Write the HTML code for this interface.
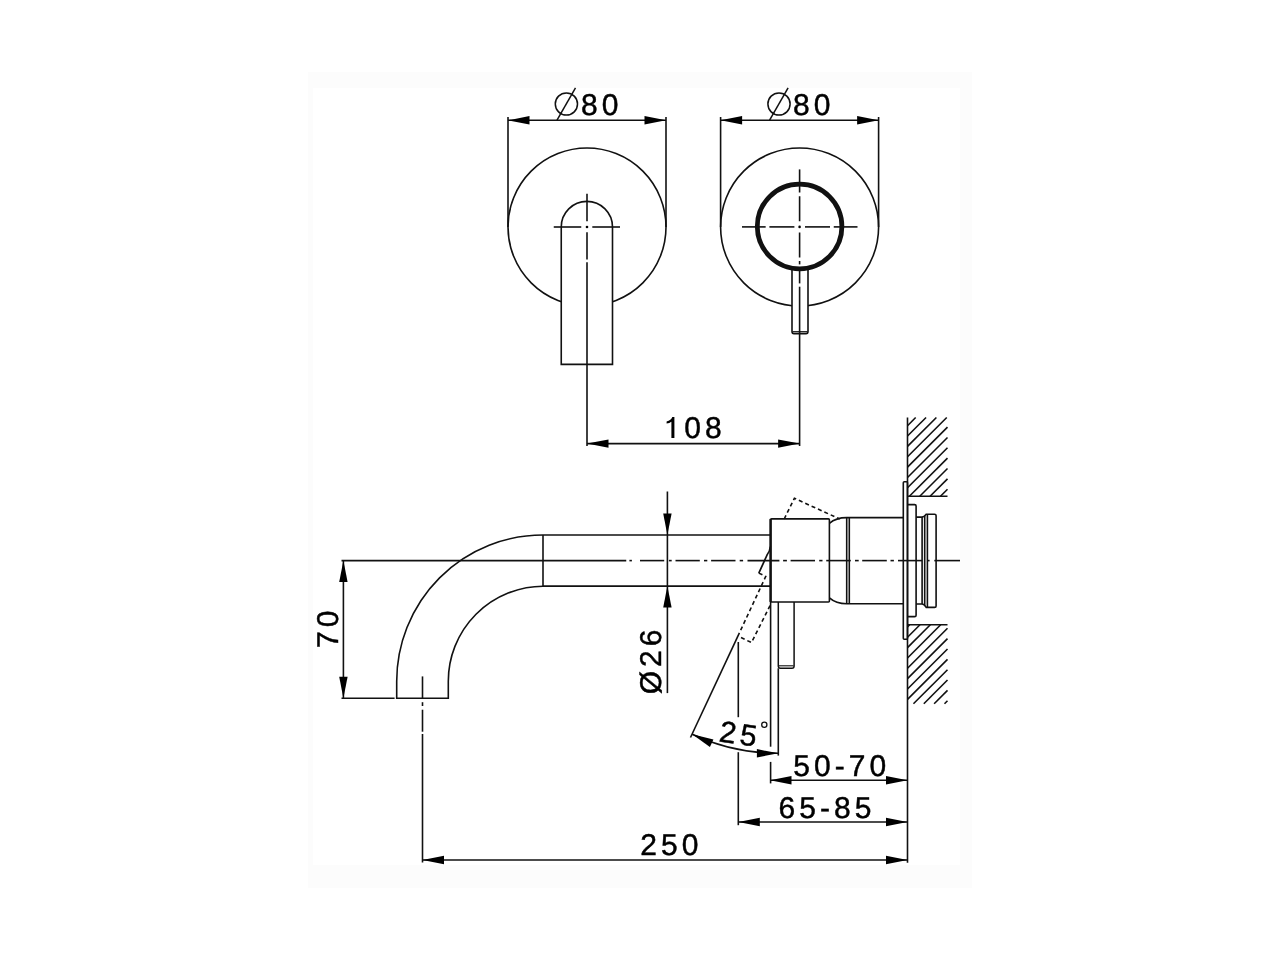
<!DOCTYPE html>
<html><head><meta charset="utf-8"><style>
html,body{margin:0;padding:0;background:#fff;width:1280px;height:960px;overflow:hidden}
svg{position:absolute;left:0;top:0;will-change:transform}
text{font-family:"Liberation Sans",sans-serif;fill:#000;text-rendering:geometricPrecision;stroke:#000;stroke-width:0.45px}
</style></head><body>
<svg width="1280" height="960" viewBox="0 0 1280 960">
<rect x="308" y="72" width="664" height="816" fill="#fcfcfc"/>
<rect x="313" y="88" width="647" height="777" fill="#fff"/>
<g stroke="#111" fill="none" stroke-linecap="butt">
<circle cx="587" cy="227" r="79" stroke-width="1.6" fill="none"/>
<path d="M561.25,364.4 V227 A25.625,25.625 0 0 1 612.5,227 V364.4 Z" stroke-width="1.6" fill="#fff"/>
<line x1="553.75" y1="227" x2="581.25" y2="227" stroke-width="1.6"/>
<line x1="592.3" y1="227" x2="620" y2="227" stroke-width="1.6"/>
<circle cx="587" cy="227" r="1.3" fill="#000" stroke="none"/>
<line x1="587" y1="193.75" x2="587" y2="221.25" stroke-width="1.6"/>
<line x1="587" y1="232.3" x2="587" y2="259.6" stroke-width="1.6"/>
<line x1="587" y1="262.2" x2="587" y2="446" stroke-width="1.6"/>
<line x1="508" y1="117" x2="508" y2="227" stroke-width="1.6"/>
<line x1="666" y1="117" x2="666" y2="227" stroke-width="1.6"/>
<line x1="508" y1="120.3" x2="666" y2="120.3" stroke-width="1.6"/>
<polygon points="508,120.3 529.5,116.1 529.5,124.5" fill="#000" stroke="none"/>
<polygon points="666,120.3 644.5,124.5 644.5,116.1" fill="#000" stroke="none"/>
<circle cx="566.4" cy="104" r="11.1" stroke-width="1.5" fill="none"/>
<line x1="557" y1="120.1" x2="575.5" y2="87.9" stroke-width="1.5"/>
<circle cx="799.6" cy="227" r="79" stroke-width="1.6" fill="none"/>
<path d="M792,268 V331.5 Q792,333.6 794,333.6 H806 Q808,333.6 808,331.5 V268 Z" stroke-width="1.6" fill="#fff"/>
<line x1="792.5" y1="331.7" x2="807.5" y2="331.7" stroke-width="1.2"/>
<circle cx="799.6" cy="226.5" r="42.3" stroke-width="4.8" fill="none"/>
<line x1="742" y1="226.9" x2="765.6" y2="226.9" stroke-width="1.6"/>
<line x1="769.4" y1="226.9" x2="794.4" y2="226.9" stroke-width="1.6"/>
<line x1="805" y1="226.9" x2="830" y2="226.9" stroke-width="1.6"/>
<line x1="833.75" y1="226.9" x2="857.5" y2="226.9" stroke-width="1.6"/>
<circle cx="799.6" cy="226.9" r="1.3" fill="#000" stroke="none"/>
<line x1="799.6" y1="169.4" x2="799.6" y2="192.5" stroke-width="1.6"/>
<line x1="799.6" y1="196.25" x2="799.6" y2="221.25" stroke-width="1.6"/>
<line x1="799.6" y1="232.5" x2="799.6" y2="257.5" stroke-width="1.6"/>
<line x1="799.6" y1="261" x2="799.6" y2="264.4" stroke-width="1.6"/>
<line x1="799.6" y1="268.4" x2="799.6" y2="283.4" stroke-width="1.6"/>
<line x1="799.6" y1="286.7" x2="799.6" y2="446" stroke-width="1.6"/>
<line x1="720.6" y1="117" x2="720.6" y2="227" stroke-width="1.6"/>
<line x1="878.6" y1="117" x2="878.6" y2="227" stroke-width="1.6"/>
<line x1="720.6" y1="120.3" x2="878.6" y2="120.3" stroke-width="1.6"/>
<polygon points="720.6,120.3 742.1,116.1 742.1,124.5" fill="#000" stroke="none"/>
<polygon points="878.6,120.3 857.1,124.5 857.1,116.1" fill="#000" stroke="none"/>
<circle cx="779" cy="104" r="11.1" stroke-width="1.5" fill="none"/>
<line x1="769.6" y1="120.1" x2="788.1" y2="87.9" stroke-width="1.5"/>
<line x1="587" y1="443.6" x2="799.6" y2="443.6" stroke-width="1.6"/>
<polygon points="587,443.6 608.5,439.4 608.5,447.8" fill="#000" stroke="none"/>
<polygon points="799.6,443.6 778.1,447.8 778.1,439.4" fill="#000" stroke="none"/>
<line x1="341.5" y1="560.6" x2="626.25" y2="560.6" stroke-width="1.6"/>
<line x1="629.4" y1="560.6" x2="631.9" y2="560.6" stroke-width="1.6"/>
<line x1="640" y1="560.6" x2="664.2" y2="560.6" stroke-width="1.6"/>
<line x1="668.9" y1="560.6" x2="671.7" y2="560.6" stroke-width="1.6"/>
<line x1="675.5" y1="560.6" x2="699.8" y2="560.6" stroke-width="1.6"/>
<line x1="704" y1="560.6" x2="707.3" y2="560.6" stroke-width="1.6"/>
<line x1="711.1" y1="560.6" x2="735.5" y2="560.6" stroke-width="1.6"/>
<line x1="739.7" y1="560.6" x2="743.1" y2="560.6" stroke-width="1.6"/>
<line x1="747.5" y1="560.6" x2="779.4" y2="560.6" stroke-width="1.6"/>
<line x1="783.1" y1="560.6" x2="786.9" y2="560.6" stroke-width="1.6"/>
<line x1="790.6" y1="560.6" x2="815" y2="560.6" stroke-width="1.6"/>
<line x1="819.2" y1="560.6" x2="822.5" y2="560.6" stroke-width="1.6"/>
<line x1="826.25" y1="560.6" x2="850.8" y2="560.6" stroke-width="1.6"/>
<line x1="855" y1="560.6" x2="858.7" y2="560.6" stroke-width="1.6"/>
<line x1="862.2" y1="560.6" x2="886.8" y2="560.6" stroke-width="1.6"/>
<line x1="890.5" y1="560.6" x2="893.9" y2="560.6" stroke-width="1.6"/>
<line x1="898" y1="560.6" x2="922" y2="560.6" stroke-width="1.6"/>
<line x1="927.2" y1="560.6" x2="929.6" y2="560.6" stroke-width="1.6"/>
<line x1="934.3" y1="560.6" x2="960" y2="560.6" stroke-width="1.6"/>
<path d="M543,535 A146.3,146.3 0 0 0 396.7,681.3 V698.25 H448.3 V681.3 A95,95 0 0 1 543,586.25" stroke-width="1.6" fill="none"/>
<line x1="543" y1="535" x2="543" y2="586.25" stroke-width="1.6"/>
<line x1="543" y1="535" x2="770.6" y2="535" stroke-width="1.6"/>
<line x1="543" y1="586.1" x2="770.6" y2="586.1" stroke-width="1.6"/>
<line x1="422.5" y1="676.4" x2="422.5" y2="698.25" stroke-width="1.6"/>
<line x1="422.5" y1="702.2" x2="422.5" y2="706" stroke-width="1.6"/>
<line x1="422.5" y1="709.7" x2="422.5" y2="731.7" stroke-width="1.6"/>
<line x1="422.5" y1="734" x2="422.5" y2="862.5" stroke-width="1.6"/>
<line x1="343.4" y1="560.6" x2="343.4" y2="698.25" stroke-width="1.6"/>
<polygon points="343.4,560.6 347.6,582.1 339.2,582.1" fill="#000" stroke="none"/>
<polygon points="343.4,698.25 339.2,676.75 347.6,676.75" fill="#000" stroke="none"/>
<line x1="341.5" y1="698.25" x2="394.6" y2="698.25" stroke-width="1.6"/>
<line x1="667.4" y1="491.5" x2="667.4" y2="693.1" stroke-width="1.6"/>
<polygon points="667.4,535 663.2,513.5 671.6,513.5" fill="#000" stroke="none"/>
<polygon points="667.4,586.1 671.6,607.6 663.2,607.6" fill="#000" stroke="none"/>
<path d="M784.2,519 L794.4,498.3 L839.7,519" stroke-width="1.6" fill="none" stroke-dasharray="4 3"/>
<path d="M770.4,546.5 Q769.8,551.5 767.3,554.5 L758.8,573.1" stroke-width="1.7" fill="none"/>
<path d="M758.8,573.1 L765.75,576.45 L737.9,636.1 L751.5,642.6 L770.6,604.5" stroke-width="1.6" fill="none" stroke-dasharray="4 3"/>
<rect x="770.6" y="518.9" width="58.8" height="83.1" rx="1" stroke-width="1.6" fill="none"/>
<line x1="770.6" y1="518.9" x2="770.6" y2="602" stroke-width="2.4"/>
<path d="M778.3,602 V666 Q778.3,668.3 780.5,668.3 H792 Q794.1,668.3 794.1,666 V602" stroke-width="1.5" fill="none"/>
<line x1="778.8" y1="665.8" x2="793.6" y2="665.8" stroke-width="1.1"/>
<line x1="770.6" y1="602" x2="770.6" y2="746.7" stroke-width="1.6"/>
<line x1="770.6" y1="761.9" x2="770.6" y2="783.4" stroke-width="1.6"/>
<line x1="778.3" y1="668.3" x2="778.3" y2="755.6" stroke-width="1.6"/>
<line x1="738.3" y1="642" x2="738.3" y2="717.2" stroke-width="1.6"/>
<line x1="738.3" y1="752.2" x2="738.3" y2="825.2" stroke-width="1.6"/>
<line x1="737.9" y1="636.1" x2="690.5" y2="737.5" stroke-width="1.6"/>
<path d="M692.19,734.19 A204,204 0 0 0 778.4,753.3" stroke-width="1.6" fill="none"/>
<polygon points="692.19,734.19 713.45,739.47 709.9,747.08" fill="#000" stroke="none"/>
<polygon points="778.4,753.3 756.9,757.5 756.9,749.1" fill="#000" stroke="none"/>
<path d="M829.4,523.3 Q836,517.6 846.7,517.6 H903.3" stroke-width="1.6" fill="none"/>
<path d="M829.4,597.9 Q836,603.7 846.7,603.7 H903.3" stroke-width="1.6" fill="none"/>
<line x1="846.7" y1="517.6" x2="846.7" y2="603.7" stroke-width="1.6"/>
<line x1="849.3" y1="517.6" x2="849.3" y2="603.7" stroke-width="1.6"/>
<rect x="903.3" y="481.7" width="4.2" height="157.5" rx="1" stroke-width="1.6" fill="none"/>
<line x1="907.5" y1="417.5" x2="907.5" y2="862.7" stroke-width="1.6"/>
<line x1="907.5" y1="425.7" x2="915.7" y2="417.5" stroke-width="1.6"/>
<line x1="907.5" y1="436.05" x2="926.05" y2="417.5" stroke-width="1.6"/>
<line x1="907.5" y1="446.4" x2="936.4" y2="417.5" stroke-width="1.6"/>
<line x1="907.5" y1="456.75" x2="946.75" y2="417.5" stroke-width="1.6"/>
<line x1="907.5" y1="467.1" x2="947.5" y2="427.1" stroke-width="1.6"/>
<line x1="907.5" y1="477.45" x2="947.5" y2="437.45" stroke-width="1.6"/>
<line x1="907.5" y1="487.8" x2="947.5" y2="447.8" stroke-width="1.6"/>
<line x1="909.4" y1="496.25" x2="947.5" y2="458.15" stroke-width="1.6"/>
<line x1="919.75" y1="496.25" x2="947.5" y2="468.5" stroke-width="1.6"/>
<line x1="930.1" y1="496.25" x2="947.5" y2="478.85" stroke-width="1.6"/>
<line x1="940.45" y1="496.25" x2="947.5" y2="489.2" stroke-width="1.6"/>
<line x1="907.5" y1="496.25" x2="947.5" y2="496.25" stroke-width="1.6"/>
<line x1="907.5" y1="626.9" x2="909.65" y2="624.75" stroke-width="1.6"/>
<line x1="907.5" y1="637.25" x2="920" y2="624.75" stroke-width="1.6"/>
<line x1="907.5" y1="647.6" x2="930.35" y2="624.75" stroke-width="1.6"/>
<line x1="907.5" y1="657.95" x2="940.7" y2="624.75" stroke-width="1.6"/>
<line x1="907.5" y1="668.3" x2="947.5" y2="628.3" stroke-width="1.6"/>
<line x1="907.5" y1="678.65" x2="947.5" y2="638.65" stroke-width="1.6"/>
<line x1="907.5" y1="689" x2="947.5" y2="649" stroke-width="1.6"/>
<line x1="907.5" y1="699.35" x2="947.5" y2="659.35" stroke-width="1.6"/>
<line x1="913.45" y1="703.75" x2="947.5" y2="669.7" stroke-width="1.6"/>
<line x1="923.8" y1="703.75" x2="947.5" y2="680.05" stroke-width="1.6"/>
<line x1="934.15" y1="703.75" x2="947.5" y2="690.4" stroke-width="1.6"/>
<line x1="944.5" y1="703.75" x2="947.5" y2="700.75" stroke-width="1.6"/>
<line x1="907.5" y1="624.75" x2="947.5" y2="624.75" stroke-width="1.6"/>
<path d="M907.5,504.6 H914.6 Q916.1,504.6 916.1,506.1 V615.2 Q916.1,616.6 914.6,616.6 H907.5" stroke-width="1.6" fill="none"/>
<path d="M916.1,517.1 H922.1 V604 H916.1" stroke-width="1.6" fill="none"/>
<path d="M922.1,517.1 Q924,517.1 926.2,514.2 H934.6 Q936.1,514.2 936.1,515.7 V606 Q936.1,607.4 934.6,607.4 H926.2 Q924,604 922.1,604" stroke-width="1.6" fill="none"/>
<line x1="924.7" y1="515.5" x2="924.7" y2="605.5" stroke-width="1.6"/>
<line x1="927.4" y1="514.2" x2="927.4" y2="607.4" stroke-width="1.6"/>
<line x1="770" y1="780.3" x2="907.5" y2="780.3" stroke-width="1.6"/>
<polygon points="770,780.3 791.5,776.1 791.5,784.5" fill="#000" stroke="none"/>
<polygon points="907.5,780.3 886,784.5 886,776.1" fill="#000" stroke="none"/>
<line x1="738.3" y1="822" x2="907.5" y2="822" stroke-width="1.6"/>
<polygon points="738.3,822 759.8,817.8 759.8,826.2" fill="#000" stroke="none"/>
<polygon points="907.5,822 886,826.2 886,817.8" fill="#000" stroke="none"/>
<line x1="422.5" y1="860" x2="907.5" y2="860" stroke-width="1.6"/>
<polygon points="422.5,860 444,855.8 444,864.2" fill="#000" stroke="none"/>
<polygon points="907.5,860 886,864.2 886,855.8" fill="#000" stroke="none"/>
<text x="580.9" y="115" font-size="30" letter-spacing="4.05" text-anchor="start">80</text>
<text x="793.1" y="115" font-size="30" letter-spacing="4.05" text-anchor="start">80</text>
<text x="684.33" y="438" font-size="30" letter-spacing="4.05" text-anchor="start">08</text>
<path d="M671.4,437.9 H674.4 V417 H672.3 C671.6,419.2 669.6,420.9 666.6,421.4 V423.6 C668.6,423.3 670.2,422.7 671.4,421.8 Z" fill="#000" stroke="none"/>
<text x="841.75" y="775.7" font-size="30" letter-spacing="4.05" text-anchor="middle">50-70</text>
<text x="827.1" y="817.7" font-size="30" letter-spacing="4.05" text-anchor="middle">65-85</text>
<text x="671.35" y="854.75" font-size="30" letter-spacing="4.05" text-anchor="middle">250</text>
<text x="338.3" y="627.3" font-size="30" letter-spacing="4.05" text-anchor="middle" transform="rotate(-90 338.3 627.3)">70</text>
<text x="661.3" y="659.9" font-size="30" letter-spacing="4.05" text-anchor="middle" transform="rotate(-90 661.3 659.9)">Ø26</text>
<text x="718.2" y="741.3" font-size="30" letter-spacing="4.05" text-anchor="start" transform="rotate(8.5 718.2 741.3)">25</text>
<circle cx="764.3" cy="724.8" r="2.6" stroke-width="1.3" fill="none"/>
</g></svg></body></html>
